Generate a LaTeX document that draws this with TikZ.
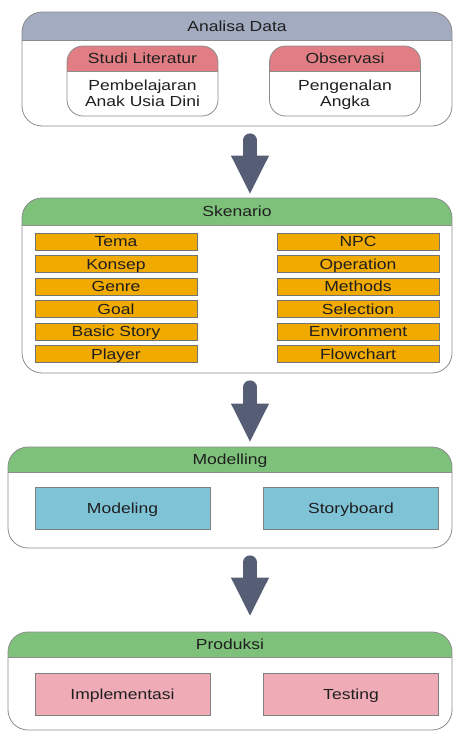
\documentclass[tikz,border=0pt]{standalone}
\usepackage{fontspec}
\setmainfont{Liberation Sans}[FakeStretch=1.2]
\usetikzlibrary{arrows.meta,positioning}

\definecolor{hdgray}{HTML}{A2ABBF}
\definecolor{hdgreen}{HTML}{7DC17B}
\definecolor{hdred}{HTML}{E07E83}
\definecolor{boxorange}{HTML}{F0AA00}
\definecolor{boxblue}{HTML}{7FC3D7}
\definecolor{boxpink}{HTML}{EFACB6}
\definecolor{arrowslate}{HTML}{565E75}
\definecolor{framegray}{HTML}{8C8C8C}

\begin{document}
\begin{tikzpicture}[x=1pt, y=-1pt,
	every node/.style={font=\fontsize{14.6}{16}\selectfont, text=black!88, inner sep=0pt, align=center},
	container/.style n args={2}{
		draw=framegray,
		fill=white,
		rounded corners=20pt,
		line width=0.8pt,
		path picture={
			\fill[#1, sharp corners] (path picture bounding box.north west) rectangle ([yshift=-#2]path picture bounding box.north east);
			\draw[framegray, line width=0.8pt, sharp corners] ([yshift=-#2]path picture bounding box.north west) -- ([yshift=-#2]path picture bounding box.north east);
		}
	},
	subframe/.style={
		container={hdred}{25pt},
		rounded corners=16pt,
		minimum width=151pt,
		minimum height=70pt
	},
	title/.style={
		text height=10.5pt,
		text depth=0.5pt
	},
	item/.style={
		title,
		draw=black!55,
		fill=boxorange,
		line width=0.6pt,
		minimum width=162pt,
		minimum height=17pt
	},
	bigbox/.style={
		title,
		draw=black!50,
		line width=0.6pt,
		minimum width=175pt,
		minimum height=42pt
	},
	flow/.style={
		arrowslate,
		line width=14pt,
		line cap=round,
		-{Triangle[width=35pt, length=39pt]}
	}
	]
	\useasboundingbox (0,0) rectangle (453,731);

	% Analisa Data
	\node[container={hdgray}{28pt}, minimum width=430pt, minimum height=114pt] (analisa) at (237,69) {};
	\node[title] (analisaTitle) at (237,26) {Analisa Data};
	\node[subframe] (studi) at (142.5,81) {};
	\node[title] (studiTitle) at (142.5,58.5) {Studi Literatur};
	\node (studiBody) at (142.5,93) {Pembelajaran\\Anak Usia Dini};
	\node[subframe] (observasi) at (345,81) {};
	\node[title] (observasiTitle) at (345,58.5) {Observasi};
	\node (observasiBody) at (345,94.5) {Pengenalan\\Angka};

	% Skenario
	\node[container={hdgreen}{27pt}, minimum width=430pt, minimum height=175pt] (skenario) at (237,285.5) {};
	\node[title] (skenarioTitle) at (237,211.5) {Skenario};
	\node[item] (tema) at (116,241.5) {Tema};
	\node[item] (konsep) at (116,264) {Konsep};
	\node[item] (genre) at (116,286.5) {Genre};
	\node[item] (goal) at (116,309) {Goal};
	\node[item] (story) at (116,331.5) {Basic Story};
	\node[item] (player) at (116,354) {Player};
	\node[item] (npc) at (358,241.5) {NPC};
	\node[item] (operation) at (358,264) {Operation};
	\node[item] (methods) at (358,286.5) {Methods};
	\node[item] (selection) at (358,309) {Selection};
	\node[item] (environment) at (358,331.5) {Environment};
	\node[item] (flowchart) at (358,354) {Flowchart};

	% Modelling
	\node[container={hdgreen}{25pt}, minimum width=444pt, minimum height=101pt] (modelling) at (230,497.5) {};
	\node[title] (modellingTitle) at (230,459.5) {Modelling};
	\node[bigbox, fill=boxblue] (modeling) at (122.5,508) {Modeling};
	\node[bigbox, fill=boxblue] (storyboard) at (351,508) {Storyboard};

	% Produksi
	\node[container={hdgreen}{25pt}, minimum width=444pt, minimum height=98pt] (produksi) at (230,681) {};
	\node[title] (produksiTitle) at (230,644.5) {Produksi};
	\node[bigbox, fill=boxpink] (implementasi) at (122.5,694) {Implementasi};
	\node[bigbox, fill=boxpink] (testing) at (351,694) {Testing};

	% Arrows between stages
	\draw[flow, shorten <=14pt, shorten >=3pt] ([xshift=13pt]analisa.south) -- ([xshift=13pt]skenario.north);
	\draw[flow, shorten <=14pt, shorten >=4pt] ([xshift=13pt]skenario.south) -- ([xshift=20pt]modelling.north);
	\draw[flow, shorten <=14pt, shorten >=15pt] ([xshift=20pt]modelling.south) -- ([xshift=20pt]produksi.north);

\end{tikzpicture}
\end{document}
